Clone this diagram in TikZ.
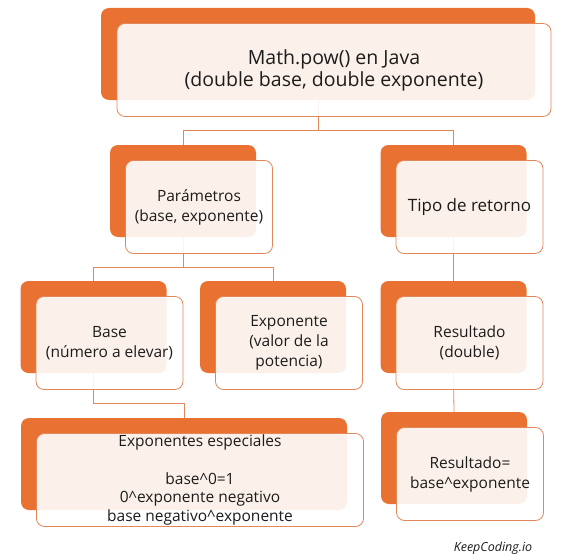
\documentclass[tikz,border=0pt]{standalone}
\usepackage{fontspec}
\setmainfont{Open Sans}
\usetikzlibrary{positioning}

\definecolor{naranja}{HTML}{E97132}
\definecolor{borde}{HTML}{E2875A}
\definecolor{texto}{HTML}{1C1C1C}

\begin{document}
\begin{tikzpicture}[x=1pt, y=-1pt,
  fondo/.style={rectangle, rounded corners=8pt, fill=naranja, inner sep=0pt,
    minimum width=146pt, minimum height=92pt},
  frente/.style={rectangle, rounded corners=8pt, fill=white, fill opacity=0.9,
    text opacity=1, draw=borde, line width=0.8pt, inner sep=0pt, align=center,
    text=texto, minimum width=147pt, minimum height=93pt,
    font=\fontsize{15.5}{20}\selectfont},
  conector/.style={draw=borde, line width=0.8pt}]
 \useasboundingbox (0,0) rectangle (561,559);
 \node [fondo, minimum width=434pt] (raiz) at (318,54) {};
 \node [fondo] (param) at (183,191) {};
 \node [fondo] (tipo) at (453.5,191) {};
 \node [fondo] (base) at (93.5,327) {};
 \node [fondo] (expo) at (273,327) {};
 \node [fondo] (resul) at (453.5,327) {};
 \node [fondo, minimum width=326pt] (espec) at (184,464) {};
 \node [fondo] (formula) at (454,458) {};
 \draw [conector] (raiz.south) -- ++(0,30) -| (param.north);
 \draw [conector] (raiz.south) -- ++(0,30) -| (tipo.north);
 \draw [conector] (param.south) -- ++(0,30) -| (base.north);
 \draw [conector] (param.south) -- ++(0,30) -| (expo.north);
 \draw [conector] (tipo.south) -- (resul.north);
 \draw [conector] (base.south) -- ++(0,30) -| (espec.north);
 \draw [conector] (resul.south) -- (formula.north);
 \node [frente, minimum width=434pt, font=\fontsize{19.5}{22}\selectfont] (raizf)
   at ([shift={(16,16)}]raiz) {Math.pow() en Java\\(double base, double exponente)};
 \node [frente] (paramf) at ([shift={(16,16)}]param) {Parámetros\\(base, exponente)};
 \node [frente, font=\fontsize{17}{20}\selectfont] (tipof) at ([shift={(16,16)}]tipo) {Tipo de retorno};
 \node [frente] (basef) at ([shift={(16,16)}]base) {Base\\(número a elevar)};
 \node [frente] (expof) at ([shift={(16,16)}]expo) {Exponente\\(valor de la\\potencia)};
 \node [frente] (resulf) at ([shift={(16,16)}]resul) {Resultado\\(double)};
 \node [frente, minimum width=327pt, font=\fontsize{15.5}{18.8}\selectfont] (especf)
   at ([shift={(16,16)}]espec) {Exponentes especiales\\[0pt] \\base\textasciicircum 0=1\\0\textasciicircum exponente negativo\\base negativo\textasciicircum exponente};
 \node [frente] (formulaf) at ([shift={(16,16)}]formula) {Resultado=\\base\textasciicircum exponente};
 \node [text=texto, font=\fontsize{12.5}{14}\selectfont\itshape] (marca) at (493,548) {KeepCoding.io};
\end{tikzpicture}
\end{document}
